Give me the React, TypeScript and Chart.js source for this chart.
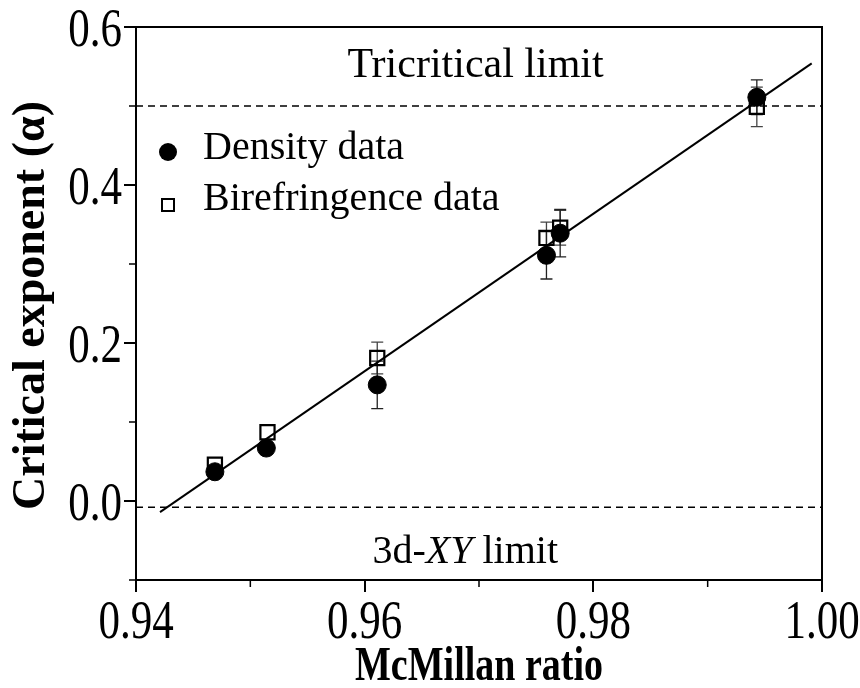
import { useEffect, useRef } from 'react';
import { Chart, registerables } from 'chart.js';

Chart.register(...registerables);

// ---- data ----
const densityX = [0.9469, 0.9514, 0.9611, 0.9759, 0.9771, 0.9943];
const densityY = [0.037, 0.067, 0.147, 0.311, 0.339, 0.511];
const densityErr = [0, 0, 0.03, 0.03, 0.03, 0.022];

const biroX = [0.9469, 0.9515, 0.9611, 0.9759, 0.9771, 0.9943];
const biroY = [0.046, 0.087, 0.181, 0.333, 0.346, 0.499];
const biroErr = [0, 0, 0.02, 0.02, 0.022, 0.025];

const fitX = [0.9421, 0.9991];
const fitY = [-0.014, 0.554];

const limitX = [0.94, 1.0];
const tricriticalY = 0.5;
const xyLimitY = -0.008;

const xMajor = [0.94, 0.96, 0.98, 1.0];
const xMinor = [0.95, 0.97, 0.99];
const yMajor = [0.0, 0.2, 0.4, 0.6];
const yMinor = [-0.1, 0.1, 0.3, 0.5];

const legendLabels = ['Density data', 'Birefringence data'];
const xTitle = 'McMillan ratio';
const yTitle = 'Critical exponent (\u03b1)';

const SERIF = '"Liberation Serif", "Times New Roman", serif';

const pts = (xs: number[], ys: number[]) => xs.map((x, i) => ({ x, y: ys[i] }));

function tallText(ctx: CanvasRenderingContext2D, text: string, x: number, y: number, font: string, sy: number, align: CanvasTextAlign) {
  ctx.save();
  ctx.translate(x, y);
  ctx.scale(1, sy);
  ctx.font = font;
  ctx.textAlign = align;
  ctx.textBaseline = 'alphabetic';
  ctx.fillText(text, 0, 0);
  ctx.restore();
}

const overlayPlugin = {
  id: 'overlay',
  beforeDatasetsDraw(chart: any) {
    const { ctx, scales } = chart;
    const xs = scales.x;
    const ys = scales.y;
    ctx.save();
    const drawErr = (X: number[], Y: number[], E: number[], color: string) => {
      ctx.strokeStyle = color;
      ctx.lineWidth = 1.3;
      X.forEach((x, i) => {
        if (!E[i]) return;
        const px = xs.getPixelForValue(x);
        const top = ys.getPixelForValue(Y[i] + E[i]);
        const bot = ys.getPixelForValue(Y[i] - E[i]);
        ctx.beginPath();
        ctx.moveTo(px, top);
        ctx.lineTo(px, bot);
        ctx.moveTo(px - 6, top);
        ctx.lineTo(px + 6, top);
        ctx.moveTo(px - 6, bot);
        ctx.lineTo(px + 6, bot);
        ctx.stroke();
      });
    };
    drawErr(biroX, biroY, biroErr, '#444');
    drawErr(densityX, densityY, densityErr, '#222');
    ctx.restore();
  },
  afterDraw(chart: any) {
    const { ctx, chartArea, scales } = chart;
    const xs = scales.x;
    const ys = scales.y;
    ctx.save();
    // box top & right
    ctx.strokeStyle = '#000';
    ctx.lineWidth = 2;
    ctx.beginPath();
    ctx.moveTo(chartArea.left, chartArea.top);
    ctx.lineTo(chartArea.right, chartArea.top);
    ctx.lineTo(chartArea.right, chartArea.bottom);
    ctx.stroke();
    // minor ticks
    ctx.lineWidth = 1.5;
    ctx.beginPath();
    xMinor.forEach((v) => {
      const px = xs.getPixelForValue(v);
      ctx.moveTo(px, chartArea.bottom);
      ctx.lineTo(px, chartArea.bottom + 7);
    });
    yMinor.forEach((v) => {
      const py = ys.getPixelForValue(v);
      ctx.moveTo(chartArea.left, py);
      ctx.lineTo(chartArea.left - 7, py);
    });
    ctx.stroke();

    ctx.fillStyle = '#000';
    // tick labels (from the scales' ticks)
    const tickFont = `43px ${SERIF}`;
    const tickSy = 1.3;
    xs.ticks.forEach((t: any) => {
      tallText(ctx, Number(t.value).toFixed(2), xs.getPixelForValue(t.value), 638, tickFont, tickSy, 'center');
    });
    ys.ticks.forEach((t: any) => {
      tallText(ctx, Number(t.value).toFixed(1), chartArea.left - 14, ys.getPixelForValue(t.value) + 18.5, tickFont, tickSy, 'right');
    });
    // axis titles
    tallText(ctx, xTitle, (chartArea.left + chartArea.right) / 2, 680, `bold 38px ${SERIF}`, 1.28, 'center');
    ctx.save();
    ctx.translate(32, (chartArea.top + chartArea.bottom) / 2 + 2);
    ctx.rotate(-Math.PI / 2);
    ctx.font = `bold 46px ${SERIF}`;
    ctx.textAlign = 'center';
    ctx.textBaseline = 'middle';
    ctx.fillText(yTitle, 0, 0);
    ctx.restore();

    // annotations
    ctx.textBaseline = 'alphabetic';
    ctx.font = `42px ${SERIF}`;
    ctx.textAlign = 'center';
    ctx.fillText('Tricritical limit', xs.getPixelForValue(0.9697), 77);

    // 3d-XY limit with italic XY
    const partA = '3d-';
    const partB = 'XY';
    const partC = ' limit';
    ctx.font = `40px ${SERIF}`;
    const wA = ctx.measureText(partA).width;
    const wC = ctx.measureText(partC).width;
    ctx.font = `italic 40px ${SERIF}`;
    const wB = ctx.measureText(partB).width;
    const total = wA + wB + wC;
    let sx = xs.getPixelForValue(0.9688) - total / 2;
    ctx.textAlign = 'left';
    ctx.font = `40px ${SERIF}`;
    ctx.fillText(partA, sx, 563);
    sx += wA;
    ctx.font = `italic 40px ${SERIF}`;
    ctx.fillText(partB, sx, 563);
    sx += wB;
    ctx.font = `40px ${SERIF}`;
    ctx.fillText(partC, sx, 563);

    // legend
    ctx.beginPath();
    ctx.arc(168, 152, 9, 0, Math.PI * 2);
    ctx.fill();
    ctx.lineWidth = 2;
    ctx.strokeRect(162, 199, 12, 12);
    ctx.font = `40px ${SERIF}`;
    ctx.fillText(legendLabels[0], 203, 159);
    ctx.fillText(legendLabels[1], 203, 210);
    ctx.restore();
  },
};

export default function App() {
  const ref = useRef<HTMLCanvasElement | null>(null);
  useEffect(() => {
    if (!ref.current) return;
    const chart = new Chart(ref.current, {
      type: 'scatter',
      data: {
        datasets: [
          {
            label: legendLabels[0],
            data: pts(densityX, densityY),
            pointStyle: 'circle',
            pointRadius: 9,
            backgroundColor: '#000',
            borderColor: '#000',
            borderWidth: 1,
            order: 1,
          },
          {
            label: legendLabels[1],
            data: pts(biroX, biroY),
            pointStyle: 'rect',
            pointRadius: 10,
            backgroundColor: 'rgba(0,0,0,0)',
            borderColor: '#000',
            borderWidth: 2.2,
            order: 2,
          },
          {
            type: 'line',
            label: 'fit',
            data: pts(fitX, fitY),
            showLine: true,
            borderColor: '#000',
            borderWidth: 2,
            pointRadius: 0,
            order: 3,
          },
          {
            type: 'line',
            label: 'tricritical',
            data: pts(limitX, [tricriticalY, tricriticalY]),
            showLine: true,
            borderColor: '#000',
            borderWidth: 1.4,
            borderDash: [7, 5],
            pointRadius: 0,
            order: 4,
          },
          {
            type: 'line',
            label: 'xy',
            data: pts(limitX, [xyLimitY, xyLimitY]),
            showLine: true,
            borderColor: '#000',
            borderWidth: 1.4,
            borderDash: [7, 5],
            pointRadius: 0,
            order: 4,
          },
        ],
      },
      options: {
        animation: false,
        responsive: false,
        maintainAspectRatio: false,
        layout: { padding: { top: 27, right: 38, left: 0, bottom: 0 } },
        plugins: { legend: { display: false }, tooltip: { enabled: false } },
        scales: {
          x: {
            type: 'linear',
            min: 0.94,
            max: 1.0,
            afterBuildTicks: (s: any) => {
              s.ticks = xMajor.map((v) => ({ value: v }));
            },
            afterFit: (s: any) => {
              s.height = 108;
            },
            ticks: { display: false },
            grid: { drawOnChartArea: false, tickLength: 12, color: '#000', lineWidth: 2 },
            border: { display: true, color: '#000', width: 2 },
            title: { display: false },
          },
          y: {
            type: 'linear',
            min: -0.1,
            max: 0.6,
            afterBuildTicks: (s: any) => {
              s.ticks = yMajor.map((v) => ({ value: v }));
            },
            afterFit: (s: any) => {
              s.width = 136;
            },
            ticks: { display: false },
            grid: { drawOnChartArea: false, tickLength: 12, color: '#000', lineWidth: 2 },
            border: { display: true, color: '#000', width: 2 },
            title: { display: false },
          },
        },
      },
      plugins: [overlayPlugin],
    });
    return () => chart.destroy();
  }, []);
  return (
    <div style={{ position: 'fixed', left: 0, top: 0, width: 860, height: 688, background: '#fff' }}>
      <canvas ref={ref} width={860} height={688} style={{ width: 860, height: 688, display: 'block' }} />
    </div>
  );
}
